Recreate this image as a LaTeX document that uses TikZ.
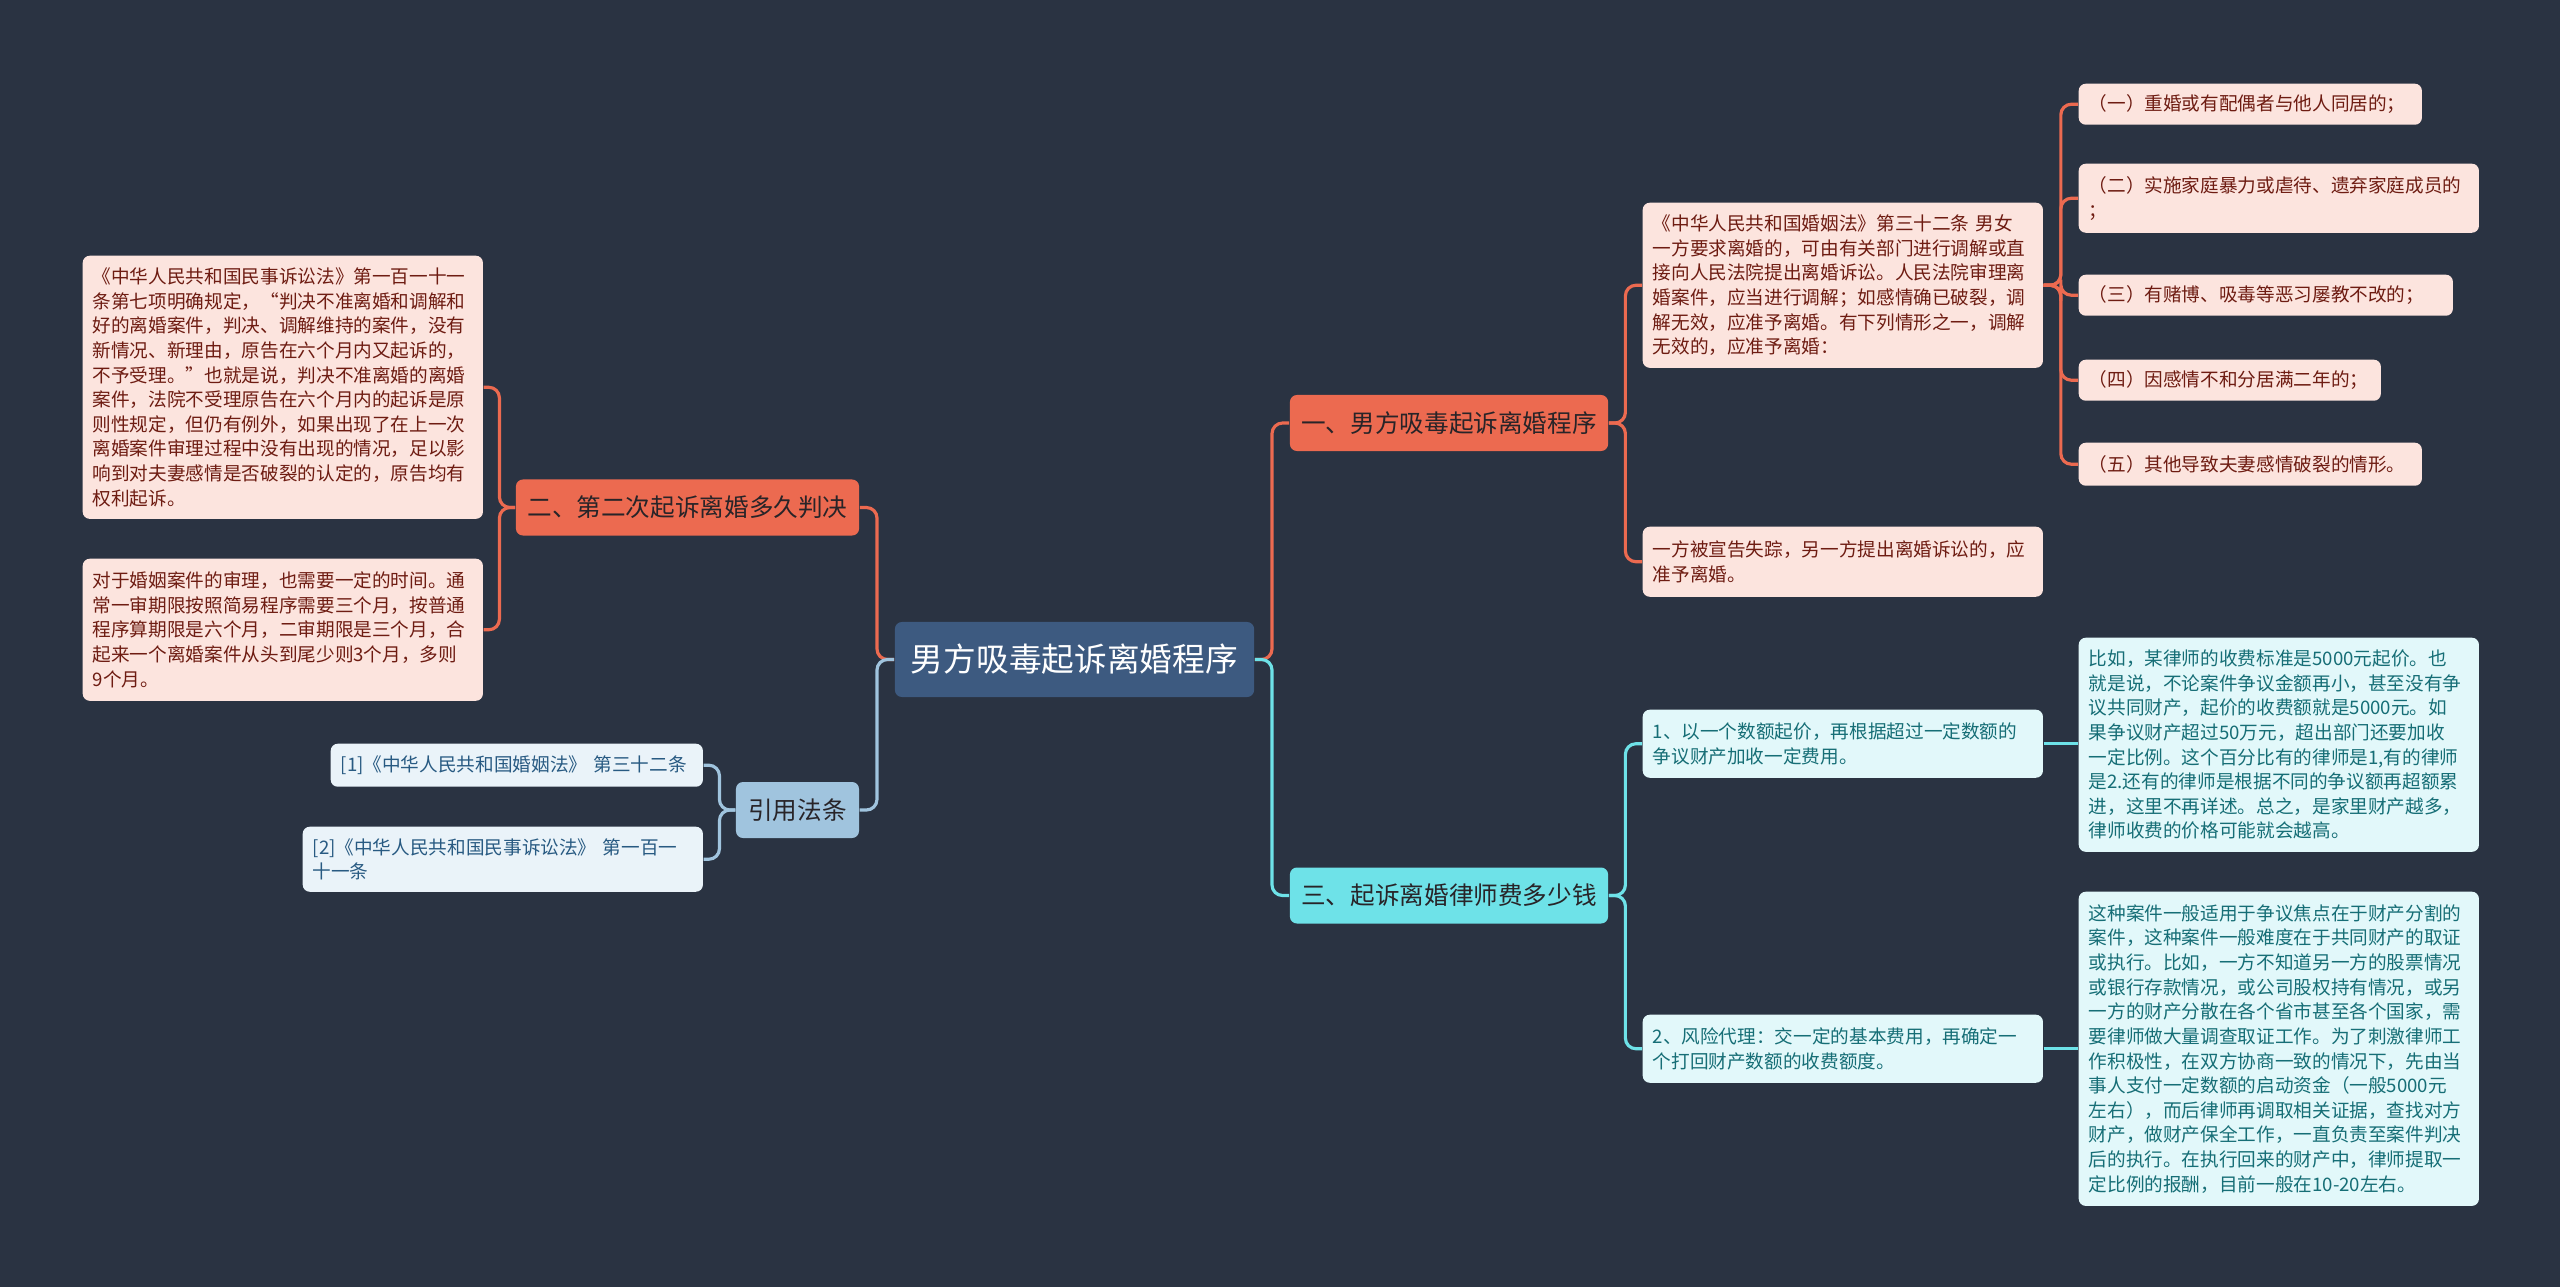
\documentclass[tikz,border=0pt]{standalone}
\usepackage{fontspec}
\setmainfont{Noto Sans CJK SC}
\usetikzlibrary{calc}
\definecolor{cBg}{RGB}{42,51,66}
\definecolor{cRoot}{RGB}{61,90,128}
\definecolor{cWarm}{RGB}{236,106,80}
\definecolor{cCyan}{RGB}{110,226,232}
\definecolor{cSteel}{RGB}{160,196,222}
\definecolor{cWarmPale}{RGB}{252,228,222}
\definecolor{cCyanPale}{RGB}{226,248,250}
\definecolor{cSteelPale}{RGB}{234,243,249}
\definecolor{cWarmText}{RGB}{110,28,18}
\definecolor{cCyanText}{RGB}{22,110,118}
\definecolor{cSteelText}{RGB}{40,90,130}
\definecolor{cDark}{RGB}{40,36,40}
\newcommand\leaffont{\fontsize{5.3}{7}\selectfont}
\tikzset{
  box/.style={rounded corners=2pt, inner sep=0pt},
  rootbox/.style={box, fill=cRoot, text=white, font=\fontsize{9.3}{11}\selectfont,
    minimum width=3.59cm, minimum height=0.75cm},
  topic/.style={box, text=cDark, font=\fontsize{7}{8}\selectfont, minimum height=0.56cm},
  leaf/.style={box, anchor=north west, align=left, inner xsep=0.1cm, font=\leaffont, text width=#1},
  leaf/.default=3.8cm,
  warmleaf/.style={fill=cWarmPale, text=cWarmText},
  cyanleaf/.style={fill=cCyanPale, text=cCyanText},
  steelleaf/.style={fill=cSteelPale, text=cSteelText},
  elbow/.style={rounded corners=3pt, line width=0.9pt,
    to path={-| ($(\tikztostart)!.5!(\tikztotarget)$) |- (\tikztotarget)}},
  straight/.style={line width=0.9pt}
}
\begin{document}
\begin{tikzpicture}[x=0.01cm, y=-0.01cm]
  % Background
  \fill[cBg] (0,0) rectangle (2560,1287);
  \useasboundingbox (0,0) rectangle (2560,1287);
  % Root and main topics
  \node[rootbox] (root) at (1074.5,659.5) {男方吸毒起诉离婚程序};
  \node[topic, fill=cWarm, minimum width=3.18cm] (law) at (1449,423) {一、男方吸毒起诉离婚程序};
  \node[topic, fill=cCyan, minimum width=3.18cm] (fee) at (1449,895.5) {三、起诉离婚律师费多少钱};
  \node[topic, fill=cWarm, minimum width=3.43cm] (again) at (687.5,507.5) {二、第二次起诉离婚多久判决};
  \node[topic, fill=cSteel, minimum width=1.23cm] (refs) at (797.5,810) {引用法条};
  % Left: second suit
  \node[leaf, warmleaf, minimum height=2.63cm] (rule) at (82,255) {《中华人民共和国民事诉讼法》第一百一十一\\条第七项明确规定，“判决不准离婚和调解和\\好的离婚案件，判决、调解维持的案件，没有\\新情况、新理由，原告在六个月内又起诉的，\\不予受理。”也就是说，判决不准离婚的离婚\\案件，法院不受理原告在六个月内的起诉是原\\则性规定，但仍有例外，如果出现了在上一次\\离婚案件审理过程中没有出现的情况，足以影\\响到对夫妻感情是否破裂的认定的，原告均有\\权利起诉。};
  \node[leaf, warmleaf, minimum height=1.42cm] (term) at (82,558) {对于婚姻案件的审理，也需要一定的时间。通\\常一审期限按照简易程序需要三个月，按普通\\程序算期限是六个月，二审期限是三个月，合\\起来一个离婚案件从头到尾少则3个月，多则\\9个月。};
  % Left: cited laws
  \node[leaf=3.52cm, steelleaf, minimum height=0.43cm] (cite1) at (330,743) {[1]《中华人民共和国婚姻法》 第三十二条};
  \node[leaf, steelleaf, minimum height=0.65cm] (cite2) at (302,826) {[2]《中华人民共和国民事诉讼法》 第一百一\\十一条};
  % Right: procedure
  \node[leaf, warmleaf, minimum height=1.65cm] (art) at (1642,202) {《中华人民共和国婚姻法》第三十二条 男女\\一方要求离婚的，可由有关部门进行调解或直\\接向人民法院提出离婚诉讼。人民法院审理离\\婚案件，应当进行调解；如感情确已破裂，调\\解无效，应准予离婚。有下列情形之一，调解\\无效的，应准予离婚：};
  \node[leaf, warmleaf, minimum height=0.70cm] (lost) at (1642,526) {一方被宣告失踪，另一方提出离婚诉讼的，应\\准予离婚。};
  \node[leaf=3.23cm, warmleaf, minimum height=0.41cm] (c1) at (2078,83) {（一）重婚或有配偶者与他人同居的；};
  \node[leaf, warmleaf, minimum height=0.69cm] (c2) at (2078,163) {（二）实施家庭暴力或虐待、遗弃家庭成员的\\；};
  \node[leaf=3.54cm, warmleaf, minimum height=0.41cm] (c3) at (2078,274) {（三）有赌博、吸毒等恶习屡教不改的；};
  \node[leaf=2.82cm, warmleaf, minimum height=0.41cm] (c4) at (2078,359) {（四）因感情不和分居满二年的；};
  \node[leaf=3.23cm, warmleaf, minimum height=0.43cm] (c5) at (2078,442) {（五）其他导致夫妻感情破裂的情形。};
  % Right: lawyer fees
  \node[leaf, cyanleaf, minimum height=0.68cm] (base) at (1642,709) {1、以一个数额起价，再根据超过一定数额的\\争议财产加收一定费用。};
  \node[leaf, cyanleaf, minimum height=0.68cm] (risk) at (1642,1014) {2、风险代理：交一定的基本费用，再确定一\\个打回财产数额的收费额度。};
  \node[leaf, cyanleaf, minimum height=2.14cm] (basetxt) at (2078,637) {比如，某律师的收费标准是5000元起价。也\\就是说，不论案件争议金额再小，甚至没有争\\议共同财产，起价的收费额就是5000元。如\\果争议财产超过50万元，超出部门还要加收\\一定比例。这个百分比有的律师是1,有的律师\\是2.还有的律师是根据不同的争议额再超额累\\进，这里不再详述。总之，是家里财产越多，\\律师收费的价格可能就会越高。};
  \node[leaf, cyanleaf, minimum height=3.14cm] (risktxt) at (2078,891) {这种案件一般适用于争议焦点在于财产分割的\\案件，这种案件一般难度在于共同财产的取证\\或执行。比如，一方不知道另一方的股票情况\\或银行存款情况，或公司股权持有情况，或另\\一方的财产分散在各个省市甚至各个国家，需\\要律师做大量调查取证工作。为了刺激律师工\\作积极性，在双方协商一致的情况下，先由当\\事人支付一定数额的启动资金（一般5000元\\左右），而后律师再调取相关证据，查找对方\\财产，做财产保全工作，一直负责至案件判决\\后的执行。在执行回来的财产中，律师提取一\\定比例的报酬，目前一般在10-20左右。};
  % Connectors
  \draw[elbow, cWarm] (root.east) to (law.west);
  \draw[elbow, cCyan] (root.east) to (fee.west);
  \draw[elbow, cWarm] (root.west) to (again.east);
  \draw[elbow, cSteel] (root.west) to (refs.east);
  \draw[elbow, cWarm] (again.west) to (rule.east);
  \draw[elbow, cWarm] (again.west) to (term.east);
  \draw[elbow, cSteel] (refs.west) to (cite1.east);
  \draw[elbow, cSteel] (refs.west) to (cite2.east);
  \draw[elbow, cWarm] (law.east) to (art.west);
  \draw[elbow, cWarm] (law.east) to (lost.west);
  \foreach \c in {c1,c2,c3,c4,c5}
    \draw[elbow, cWarm] (art.east) to (\c.west);
  \draw[elbow, cCyan] (fee.east) to (base.west);
  \draw[elbow, cCyan] (fee.east) to (risk.west);
  \draw[straight, cCyan] (base.east) -- (base.east -| basetxt.west);
  \draw[straight, cCyan] (risk.east) -- (risk.east -| risktxt.west);
\end{tikzpicture}
\end{document}
